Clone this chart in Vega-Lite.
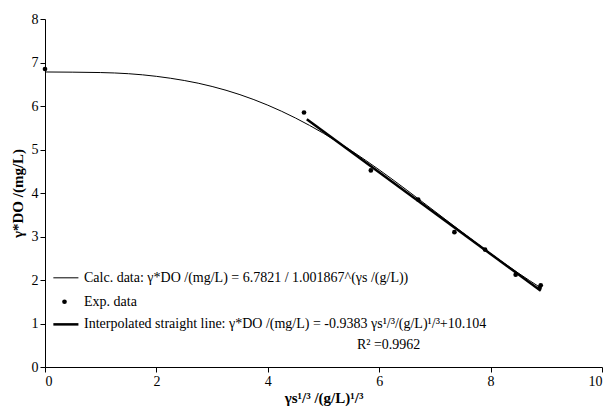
{
  "$schema": "https://vega.github.io/schema/vega-lite/v6.json",
  "width": 615,
  "height": 407,
  "autosize": {"type": "fit", "contains": "padding"},
  "padding": {"left": 10, "top": 12, "right": 12, "bottom": 2},
  "background": "white",
  "config": {
    "font": "Liberation Serif",
    "view": {"stroke": null},
    "axis": {"grid": false, "domainColor": "black", "tickColor": "black", "labelColor": "black", "titleColor": "black", "labelFontSize": 14, "titleFontSize": 15, "titleFontWeight": "bold", "tickSize": 5, "labelFont": "Liberation Serif", "titleFont": "Liberation Serif"}
  },
  "datasets": {
    "calc": [
      {"x": 0, "y": 6.782}, {"x": 1, "y": 6.769}, {"x": 2, "y": 6.682}, {"x": 3, "y": 6.449},
      {"x": 3.5, "y": 6.261}, {"x": 4, "y": 6.019}, {"x": 4.5, "y": 5.722}, {"x": 5, "y": 5.372},
      {"x": 5.5, "y": 4.973}, {"x": 6, "y": 4.533}, {"x": 6.5, "y": 4.063}, {"x": 7, "y": 3.577},
      {"x": 7.5, "y": 3.088}, {"x": 8, "y": 2.61}, {"x": 8.5, "y": 2.157}, {"x": 8.9, "y": 1.821}
    ],
    "fit": [{"x": 4.7, "y": 5.694}, {"x": 8.9, "y": 1.753}],
    "exp": [
      {"x": 0, "y": 6.85}, {"x": 4.65, "y": 5.85}, {"x": 5.85, "y": 4.52}, {"x": 6.7, "y": 3.85},
      {"x": 7.35, "y": 3.1}, {"x": 7.9, "y": 2.7}, {"x": 8.45, "y": 2.12}, {"x": 8.9, "y": 1.88}, {"x": 8.88, "y": 1.82}
    ],
    "legline": [
      {"item": "calc", "x": 0.15, "x2": 0.6, "y": 2.05, "w": 1},
      {"item": "fit", "x": 0.15, "x2": 0.6, "y": 0.98, "w": 2.5}
    ],
    "legtext": [
      {"x": 0.7, "y": 2.05, "t": "Calc. data:  γ*DO /(mg/L) = 6.7821 / 1.001867^(γs /(g/L))"},
      {"x": 0.7, "y": 1.5, "t": "Exp. data"},
      {"x": 0.7, "y": 0.98, "t": "Interpolated straight line:  γ*DO /(mg/L) = -0.9383  γs¹/³/(g/L)¹/³+10.104"},
      {"x": 5.6, "y": 0.5, "t": "R² =0.9962"}
    ]
  },
  "encoding": {
    "x": {"field": "x", "type": "quantitative", "scale": {"domain": [0, 10], "nice": false}, "axis": {"values": [0, 2, 4, 6, 8, 10], "title": "γs¹/³ /(g/L)¹/³", "titlePadding": 2}},
    "y": {"field": "y", "type": "quantitative", "scale": {"domain": [0, 8], "nice": false}, "axis": {"values": [0, 1, 2, 3, 4, 5, 6, 7, 8], "title": "γ*DO /(mg/L)", "titlePadding": 6}}
  },
  "layer": [
    {"data": {"name": "calc"}, "mark": {"type": "line", "color": "black", "strokeWidth": 1, "interpolate": "monotone"}},
    {"data": {"name": "fit"}, "mark": {"type": "line", "color": "black", "strokeWidth": 2.5}},
    {"data": {"name": "exp"}, "mark": {"type": "point", "filled": true, "color": "black", "size": 22, "opacity": 1}},
    {"data": {"name": "legline"}, "mark": {"type": "rule", "color": "black"}, "encoding": {"x2": {"field": "x2"}, "strokeWidth": {"field": "w", "type": "quantitative", "scale": null}}},
    {"data": {"values": [{"x": 0.35, "y": 1.5}]}, "mark": {"type": "point", "filled": true, "color": "black", "size": 22, "opacity": 1}},
    {"data": {"name": "legtext"}, "mark": {"type": "text", "align": "left", "baseline": "middle", "fontSize": 14, "color": "black", "font": "Liberation Serif"}, "encoding": {"text": {"field": "t"}}}
  ]
}
